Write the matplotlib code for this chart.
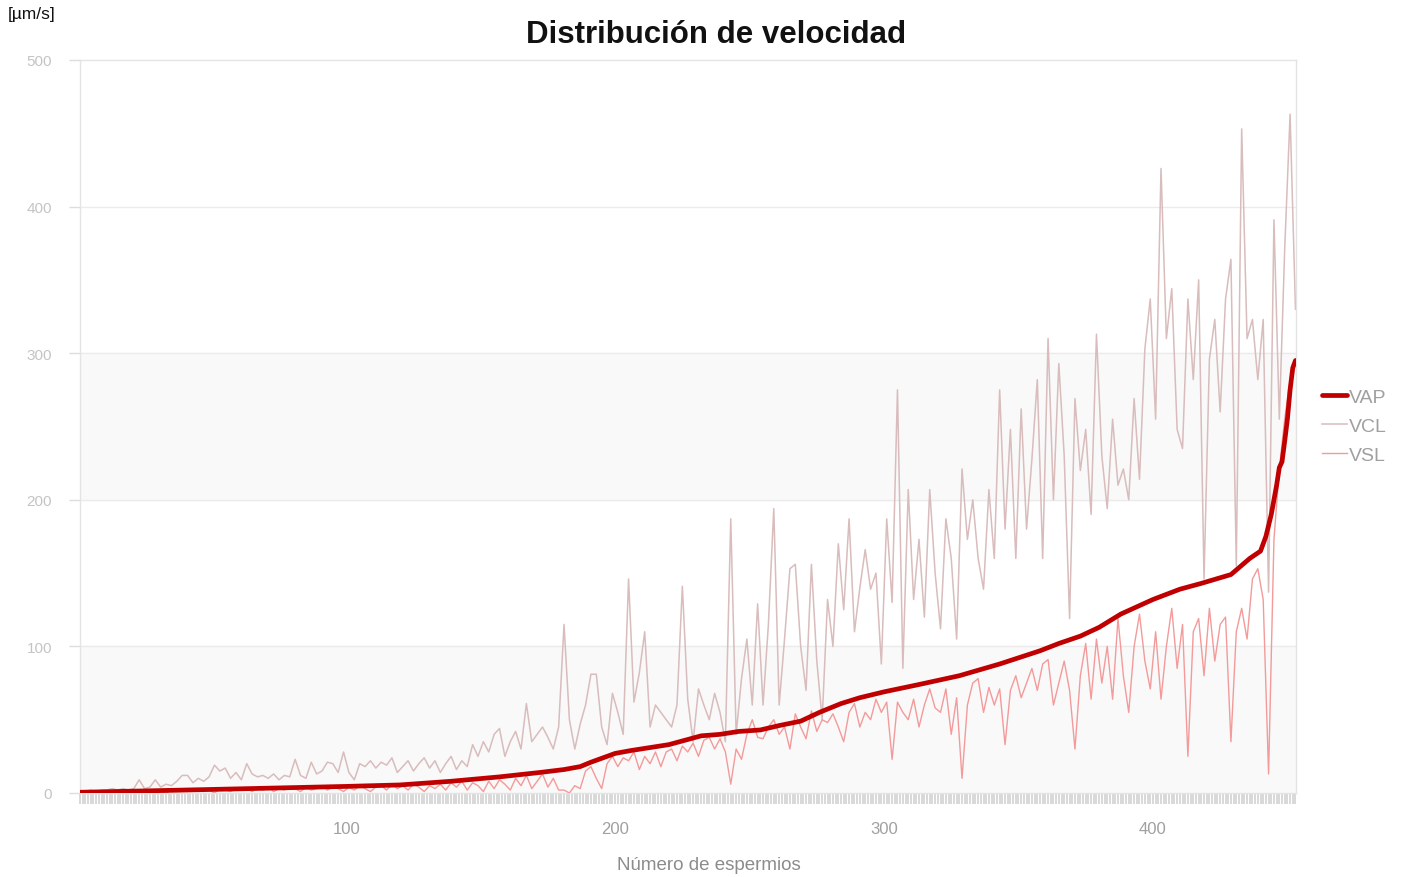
import matplotlib
matplotlib.use('Agg')
import matplotlib.pyplot as plt
import numpy as np
from matplotlib.ticker import MultipleLocator, FixedLocator

plt.rcParams['font.family'] = ['Liberation Sans', 'DejaVu Sans']

# VCL / VSL sampled at sperm number 1, 3, 5, ... 453
sperm = np.arange(1, 454, 2)

vcl = [1, 1, 2, 1, 2, 2, 3, 2, 3, 2,
       3, 9, 3, 4, 9, 4, 6, 5, 8, 12,
       12, 7, 10, 8, 11, 19, 15, 17, 10, 14,
       9, 20, 13, 11, 12, 10, 13, 9, 12, 11,
       23, 12, 10, 21, 13, 15, 21, 20, 14, 28,
       14, 9, 20, 18, 22, 17, 21, 19, 24, 14,
       18, 22, 15, 20, 24, 17, 22, 14, 20, 25,
       16, 22, 18, 33, 25, 35, 28, 40, 44, 25,
       35, 42, 30, 61, 35, 40, 45, 38, 30, 45,
       115, 50, 30, 47, 60, 81, 81, 45, 33, 68,
       55, 40, 146, 62, 82, 110, 45, 60, 55, 50,
       45, 60, 141, 64, 35, 71, 60, 50, 68, 55,
       35, 187, 40, 78, 105, 60, 129, 60, 115, 194,
       60, 105, 153, 156, 100, 70, 156, 90, 50, 132,
       100, 170, 125, 187, 110, 140, 166, 139, 150, 88,
       187, 130, 275, 85, 207, 132, 173, 120, 207, 150,
       112, 187, 160, 105, 221, 173, 200, 160, 139, 207,
       160, 275, 180, 248, 160, 262, 180, 228, 282, 160,
       310, 200, 293, 230, 119, 269, 220, 248, 190, 313,
       230, 194, 255, 210, 221, 200, 269, 214, 303, 337,
       255, 426, 310, 344, 248, 235, 337, 282, 350, 146,
       296, 323, 260, 337, 364, 155, 453, 310, 323, 282,
       323, 137, 391, 255, 371, 463, 330]

vsl = [0, 1, 0, 1, 1, 0, 1, 2, 1, 1,
       1, 2, 0, 1, 2, 1, 0, 2, 1, 2,
       1, 2, 3, 1, 2, 0, 3, 2, 1, 3,
       2, 3, 1, 3, 2, 4, 1, 3, 2, 4,
       3, 1, 4, 2, 3, 5, 2, 4, 3, 1,
       4, 2, 5, 3, 1, 4, 5, 2, 6, 3,
       5, 2, 6, 4, 1, 5, 3, 6, 2, 7,
       4, 8, 2, 7, 5, 1, 8, 3, 9, 6,
       2, 10, 5, 12, 3, 8, 13, 4, 10, 2,
       2, 0, 5, 3, 15, 18, 10, 3, 20, 25,
       18, 24, 22, 28, 16, 25, 20, 28, 18, 28,
       30, 22, 32, 28, 34, 25, 36, 38, 30, 37,
       28, 6, 30, 23, 40, 50, 38, 37, 45, 50,
       40, 45, 30, 54, 45, 37, 56, 42, 50, 48,
       54, 45, 35, 55, 61, 45, 55, 50, 64, 55,
       62, 23, 62, 55, 50, 64, 45, 60, 71, 58,
       55, 71, 40, 65, 10, 60, 75, 78, 55, 72,
       60, 71, 33, 70, 80, 65, 75, 85, 70, 88,
       91, 60, 75, 90, 70, 30, 80, 102, 64, 105,
       75, 100, 64, 119, 80, 55, 100, 122, 90, 71,
       110, 64, 100, 126, 85, 115, 25, 110, 119, 80,
       126, 90, 115, 120, 35, 110, 126, 105, 146, 153,
       132, 13, 173, 221, 255, 282, 296]

# VAP is sorted and smooth
vap_x = [1, 27, 64, 100, 120, 139, 157, 172, 181, 187, 191, 194, 200, 206, 213,
         220, 228, 232, 239, 246, 254, 261, 269, 276, 284, 291, 300, 313, 328,
         343, 358, 365, 373, 380, 388, 400, 410, 418, 429, 436, 440, 442, 444,
         446, 447, 448, 449, 450, 451, 452, 453]
vap_y = [0.5, 1.5, 3, 4.5, 5.5, 8, 11, 14, 16, 18, 21, 23, 27, 29, 31,
         33, 37, 39, 40, 42, 43, 46, 49, 55, 61, 65, 69, 74, 80,
         88, 97, 102, 107, 113, 122, 132, 139, 143, 149, 160, 165, 175, 190,
         210, 222, 226, 240, 255, 275, 290, 295]

W, H = 1413, 878
fig = plt.figure(figsize=(W / 100, H / 100), dpi=100)
ax = fig.add_axes([80 / W, 1 - 794 / H, (1296 - 80) / W, (794 - 61) / H])

ax.axhspan(0, 100, color='#f9f9f9', zorder=0)
ax.axhspan(200, 300, color='#f9f9f9', zorder=0)
for yv in [100, 200, 300, 400]:
    ax.axhline(yv, color='#ebebeb', lw=1, zorder=0.5)

ax.plot(sperm, vcl, color='#d9bcbc', lw=1.1, zorder=2, label='VCL')
ax.plot(sperm, vsl, color='#f39a9a', lw=1.0, zorder=3, label='VSL')
ax.plot(vap_x, vap_y, color='#c00000', lw=3.4, zorder=4, label='VAP',
        solid_capstyle='round')

ax.set_xlim(1, 453.2)
ax.set_ylim(0, 500)
ax.yaxis.set_major_locator(FixedLocator([0, 100, 200, 300, 400, 500]))
ax.xaxis.set_major_locator(FixedLocator([100, 200, 300, 400]))
ax.xaxis.set_minor_locator(MultipleLocator(1))

for s in ['left', 'top', 'right', 'bottom']:
    ax.spines[s].set_color('#e4e4e4')
    ax.spines[s].set_linewidth(1)

ax.tick_params(axis='y', direction='out', length=8, width=1, color='#dddddd',
               labelcolor='#c4c4c4', labelsize=11, pad=12)
ax.tick_params(axis='x', which='major', direction='out', length=8, width=1.3,
               color='#d6d6d6', labelcolor='#a0a0a0', labelsize=12, pad=12)
ax.tick_params(axis='x', which='minor', direction='out', length=8, width=1.3,
               color='#d6d6d6')

fig.text(709 / W, 1 - 866 / H, 'Número de espermios', ha='center', va='center',
         color='#8c8c8c', fontsize=13.5)

fig.text(716 / W, 1 - 35 / H, 'Distribución de velocidad', ha='center', va='center',
         fontsize=22.5, color='#111111', fontweight='bold')
fig.text(8 / W, 1 - 14 / H, '[µm/s]', ha='left', va='center', fontsize=12.5,
         color='#111111')

handles, labels = ax.get_legend_handles_labels()
order = [2, 0, 1]
leg = fig.legend([handles[i] for i in order], [labels[i] for i in order],
                 loc='center left', bbox_to_anchor=(1304 / W, 1 - 427 / H),
                 frameon=False, handlelength=1.3, handletextpad=0.1,
                 labelspacing=0.6, fontsize=14)
for t in leg.get_texts():
    t.set_color('#a0a0a0')

fig.savefig('out.png', dpi=100)
